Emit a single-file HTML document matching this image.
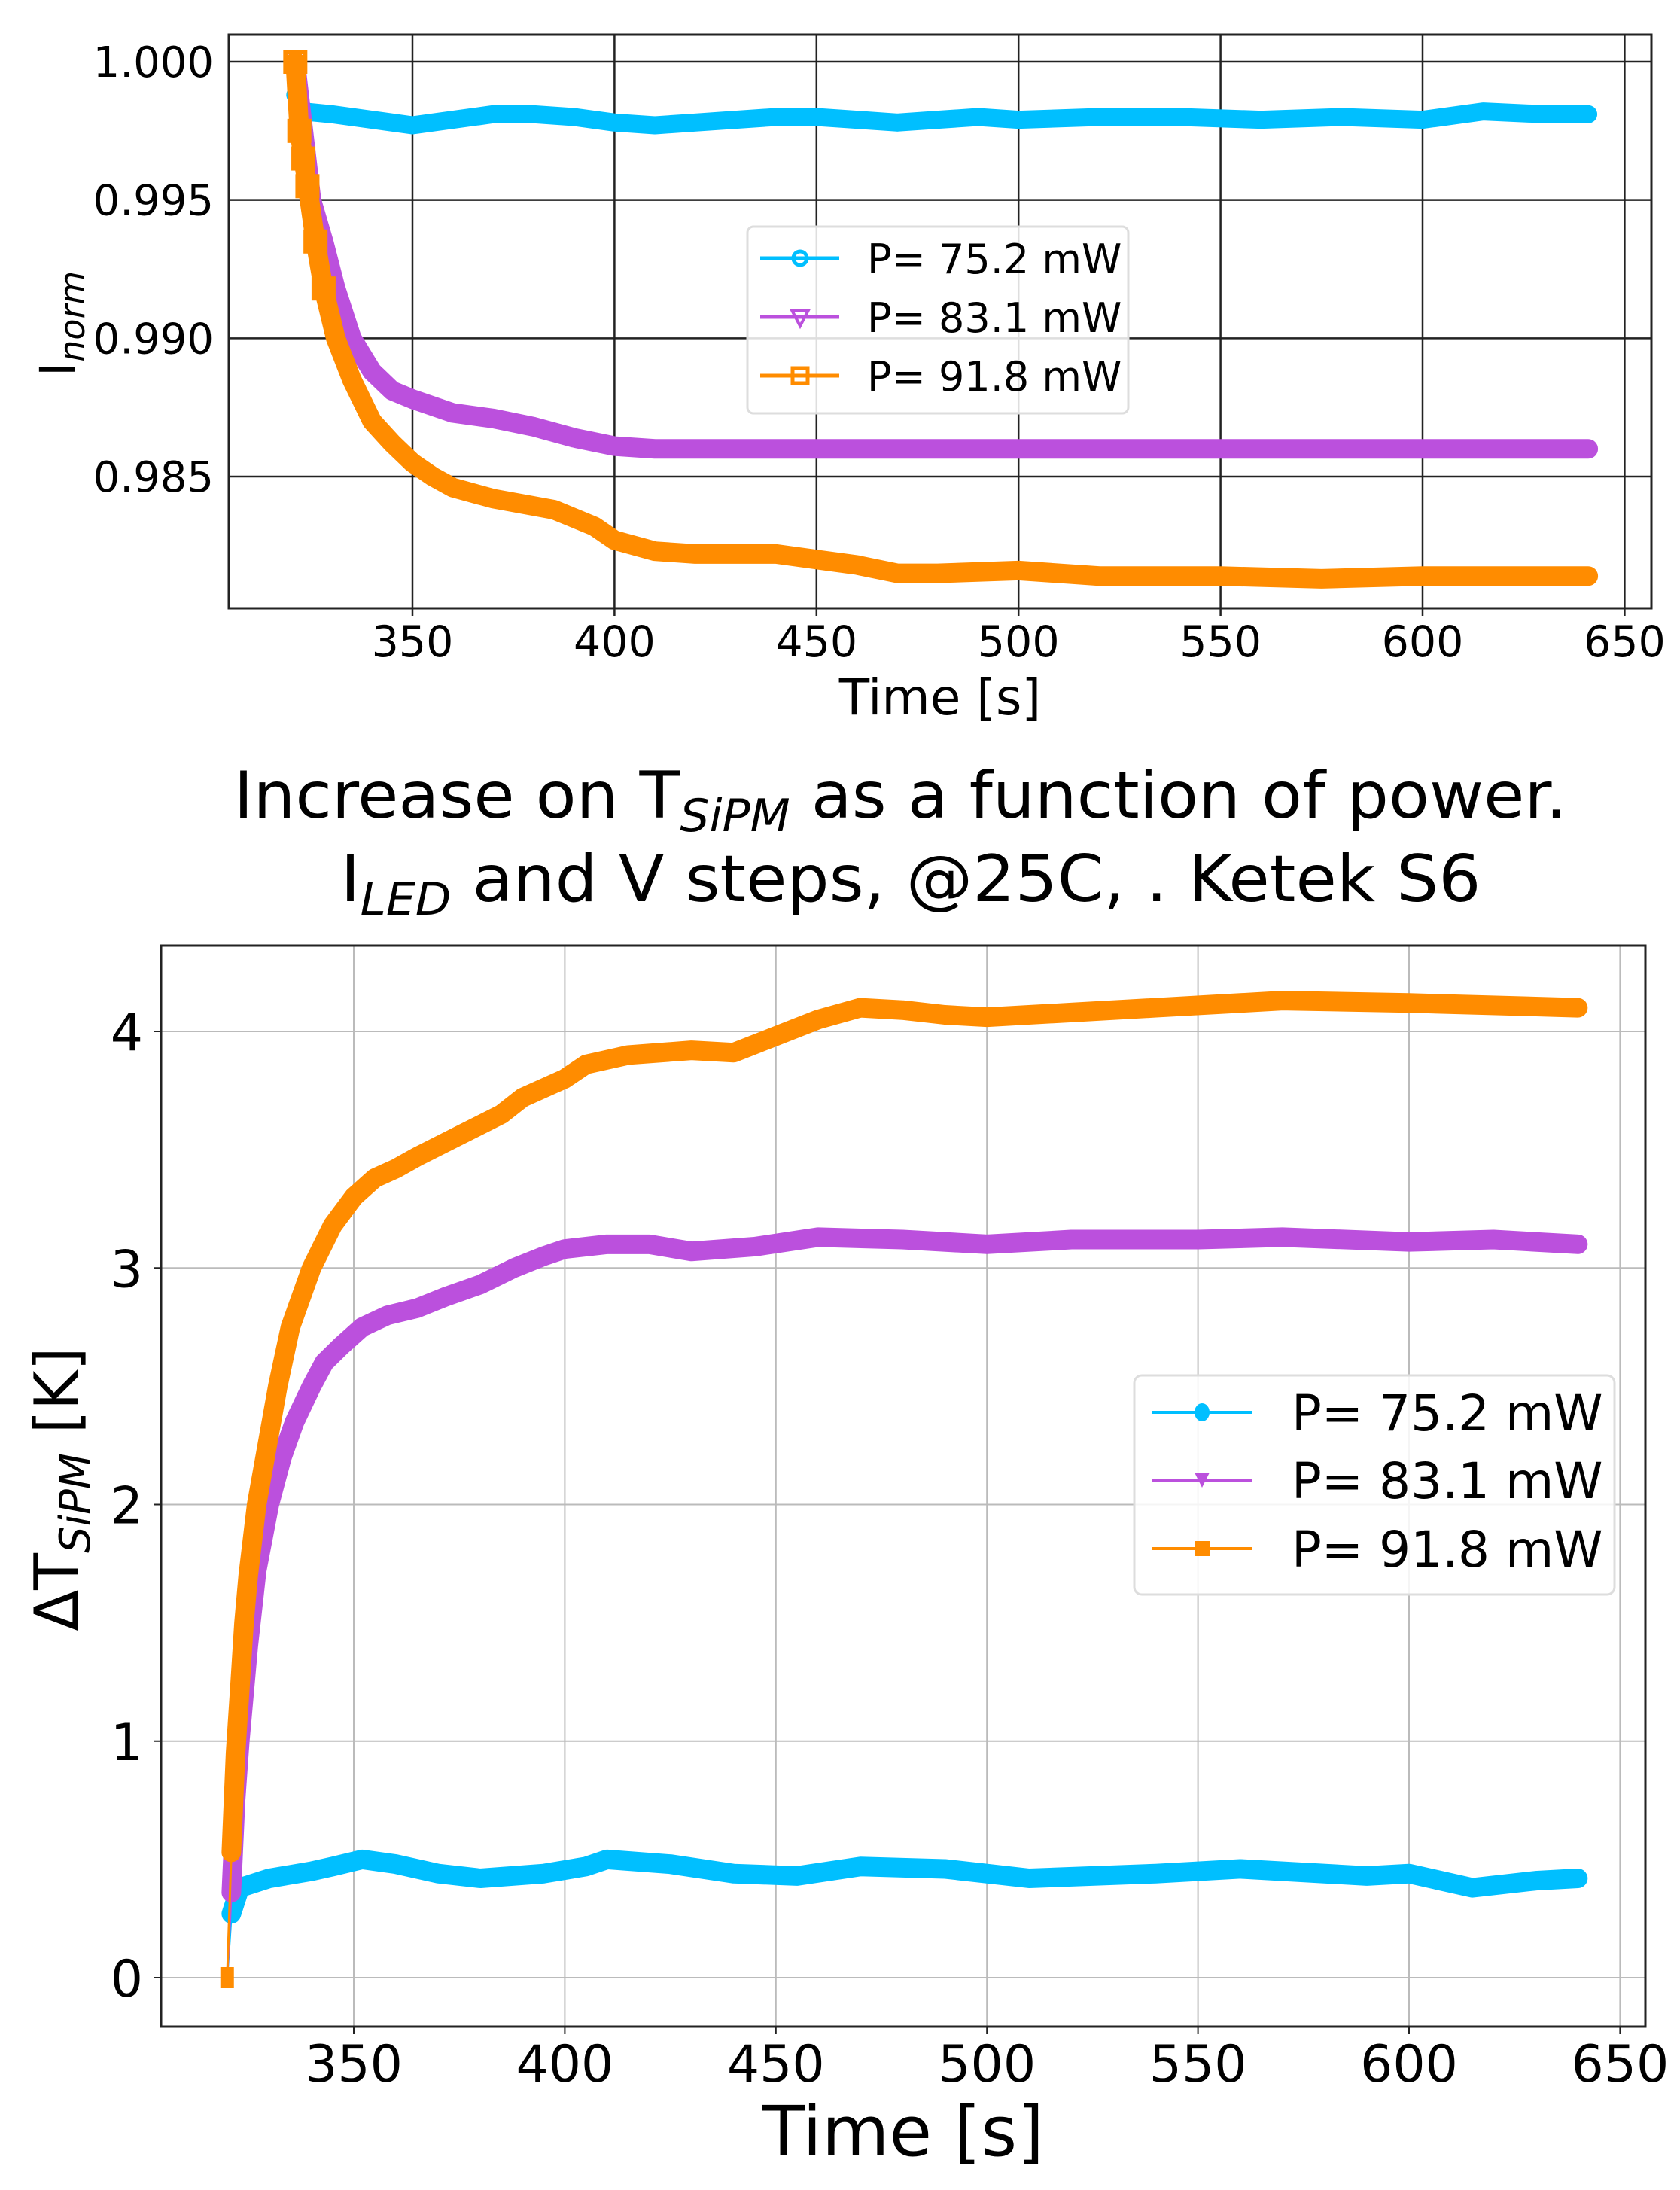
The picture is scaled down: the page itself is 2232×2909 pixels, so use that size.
<!DOCTYPE html>
<html><head><meta charset="utf-8"><style>
html,body{margin:0;padding:0;background:#fff}
svg{display:block;font-family:"DejaVu Sans","Liberation Sans",sans-serif}
</style></head><body>
<svg id="fig" width="2232" height="2909" viewBox="0 0 2232 2909" xmlns="http://www.w3.org/2000/svg">
<rect width="2232" height="2909" fill="#fff"/>
<g id="top"></g>
<text x="1196" y="1086" font-size="86" text-anchor="middle" textLength="1771" lengthAdjust="spacingAndGlyphs">Increase on T<tspan font-style="italic" font-size="60" dy="18">SiPM</tspan><tspan dy="-18"> as a function of power.</tspan></text>
<text x="1210" y="1197" font-size="86" text-anchor="middle" textLength="1515" lengthAdjust="spacingAndGlyphs">I<tspan font-style="italic" font-size="60" dy="18">LED</tspan><tspan dy="-18"> and V steps, @25C, . Ketek S6</tspan></text>
<g id="bot"></g>
</svg>
<script>
// ---- data: top plot (normalized current) ----
const topTimeBlue = [321,323,330,340,350,360,370,380,390,400,410,420,430,440,450,460,470,480,490,500,520,540,560,580,600,615,630,641];
const topBlue = [0.9988,0.9982,0.9981,0.9979,0.9977,0.9979,0.9981,0.9981,0.998,0.9978,0.9977,0.9978,0.9979,0.998,0.998,0.9979,0.9978,0.9979,0.998,0.9979,0.998,0.998,0.9979,0.998,0.9979,0.9982,0.9981,0.9981];
const topTimeP = [321,323,325,328,331,335,340,345,350,360,370,380,390,400,410,420,450,500,550,600,641];
const topPurple = [1.0,0.9975,0.995,0.9935,0.9918,0.990,0.9888,0.9881,0.9878,0.9873,0.9871,0.9868,0.9864,0.9861,0.986,0.986,0.986,0.986,0.986,0.986,0.986];
const topTimeO = [321,322,323,324,326,328,331,335,340,345,350,355,360,370,385,395,400,410,420,440,450,460,470,480,500,520,550,575,600,641];
const topOrange = [1.0,0.9975,0.9965,0.9955,0.9935,0.9918,0.990,0.9885,0.987,0.9862,0.9855,0.985,0.9846,0.9842,0.9838,0.9832,0.9827,0.9823,0.9822,0.9822,0.982,0.9818,0.9815,0.9815,0.9816,0.9814,0.9814,0.9813,0.9814,0.9814];
const topXTicks = [350,400,450,500,550,600,650];
const topYTicks = [0.985,0.990,0.995,1.000];
const topYTickLabels = ["0.985","0.990","0.995","1.000"];
// ---- data: bottom plot (delta T) ----
const botTimeB = [320,321,323,330,340,345,352,360,370,380,395,405,410,425,440,455,470,490,510,540,560,590,600,615,630,640];
const botBlue = [0,0.27,0.38,0.42,0.45,0.47,0.5,0.48,0.44,0.42,0.44,0.47,0.5,0.48,0.44,0.43,0.47,0.46,0.42,0.44,0.46,0.43,0.44,0.38,0.41,0.42];
const botTimeP = [320,321,322,323,325,327,330,333,336,340,343,347,352,358,365,372,380,388,395,400,410,420,430,445,460,480,500,520,550,570,600,620,640];
const botPurple = [0,0.36,0.75,1.0,1.4,1.72,2.0,2.2,2.35,2.5,2.6,2.67,2.75,2.8,2.83,2.88,2.93,3.0,3.05,3.08,3.1,3.1,3.07,3.09,3.13,3.12,3.1,3.12,3.12,3.13,3.11,3.12,3.1];
const botTimeO = [320,321,322,323,324,325,327,330,332,335,340,345,350,355,360,365,375,385,390,400,405,415,430,440,450,460,470,480,490,500,520,540,570,600,640];
const botOrange = [0,0.53,0.95,1.22,1.5,1.7,2.0,2.3,2.5,2.75,3.0,3.18,3.3,3.38,3.42,3.47,3.56,3.65,3.72,3.8,3.86,3.9,3.92,3.91,3.98,4.05,4.1,4.09,4.07,4.06,4.08,4.1,4.13,4.12,4.1];
const botXTicks = [350,400,450,500,550,600,650];
const botYTicks = [0,1,2,3,4];
const seriesLabels = ["P= 75.2 mW","P= 83.1 mW","P= 91.8 mW"];
const colors = ["#00bfff","#bb50dd","#ff8c00"];

const NS="http://www.w3.org/2000/svg";
function mk(parent,tag,attrs){const e=document.createElementNS(NS,tag);for(const k in attrs)e.setAttribute(k,attrs[k]);parent.appendChild(e);return e;}
function lin(d0,d1,r0,r1){return v=>r0+(v-d0)*(r1-r0)/(d1-d0);}

// ---------- TOP ----------
(function(){
  const g=document.getElementById('top');
  const L=304,R=2194,T=46,B=808;
  const x=lin(350,600,548,1890), y=lin(1.0,0.985,82,633);
  const clip=mk(g,'clipPath',{id:'ct'}); mk(clip,'rect',{x:L,y:T,width:R-L,height:B-T});
  topXTicks.forEach(t=>{
    const l=mk(g,'line',{x1:x(t),x2:x(t),y1:T,y2:B,stroke:'#222','stroke-width':2.5});
    
    
    mk(g,'line',{x1:x(t),x2:x(t),y1:B,y2:B+10,stroke:'#222','stroke-width':2.5});
    const tx=mk(g,'text',{x:x(t),y:872,'font-size':57,'text-anchor':'middle'});tx.textContent=t;
    
    
  });
  topYTicks.forEach((t,i)=>{
    const l=mk(g,'line',{x1:L,x2:R,y1:y(t),y2:y(t),stroke:'#222','stroke-width':2.5});
    
    
    const tx=mk(g,'text',{x:284,y:y(t)+20,'font-size':56,'text-anchor':'end'});tx.textContent=topYTickLabels[i];
    
    
  });
  const sets=[[topTimeBlue,topBlue],[topTimeP,topPurple],[topTimeO,topOrange]];
  const sg=mk(g,'g',{'clip-path':'url(#ct)'});
  sets.forEach((s,k)=>{
    const pts=s[0].map((t,i)=>x(t)+','+y(s[1][i])).join(' ');
    const p=mk(sg,'polyline',{points:pts,fill:'none',stroke:colors[k],'stroke-width':k==0?24:26,'stroke-linejoin':'round','stroke-linecap':'round'});
    
    
  });
  // early markers
  topTimeO.slice(0,6).forEach((t,i)=>{const r=mk(sg,'rect',{x:x(t)-13,y:y(topOrange[i])-13,width:26,height:26,fill:'none',stroke:colors[2],'stroke-width':6});
    
    });
  mk(g,'rect',{x:L,y:T,width:R-L,height:B-T,fill:'none',stroke:'#222','stroke-width':3});
  const xl=mk(g,'text',{x:1249,y:949,'font-size':66,'text-anchor':'middle'});xl.textContent='Time [s]';
  
  
  const yl=mk(g,'text',{transform:'translate(100,430) rotate(-90)','font-size':66,'text-anchor':'middle'});
  yl.innerHTML='I<tspan font-style="italic" font-size="46" dy="12">norm</tspan>';
  
  
  // legend
  const lg=mk(g,'g',{});
  
  
  mk(lg,'rect',{x:993,y:301,width:506,height:248,rx:8,fill:'#fff','fill-opacity':0.85,stroke:'#ddd','stroke-width':3});
  [343,421,499].forEach((yy,k)=>{
    mk(lg,'line',{x1:1010,x2:1115,y1:yy,y2:yy,stroke:colors[k],'stroke-width':5});
    if(k==0)mk(lg,'circle',{cx:1063,cy:yy,r:9,fill:'none',stroke:colors[k],'stroke-width':5});
    if(k==1)mk(lg,'path',{d:`M1052 ${yy-9} L1074 ${yy-9} L1063 ${yy+12} Z`,fill:'none',stroke:colors[k],'stroke-width':4});
    if(k==2)mk(lg,'rect',{x:1053,y:yy-10,width:20,height:20,fill:'none',stroke:colors[k],'stroke-width':5});
    const t=mk(lg,'text',{x:1152,y:yy+20,'font-size':54});t.textContent=seriesLabels[k];
    
    
  });
})();

// ---------- BOTTOM ----------
(function(){
  const g=document.getElementById('bot');
  const L=214,R=2186,T=1256,B=2692;
  const x=lin(350,600,470,1872), y=lin(0,4,2627,1370);
  const clip=mk(g,'clipPath',{id:'cb'}); mk(clip,'rect',{x:L,y:T,width:R-L,height:B-T});
  botXTicks.forEach(t=>{
    const l=mk(g,'line',{x1:x(t),x2:x(t),y1:T,y2:B,stroke:'#bbb','stroke-width':2});
    
    
    mk(g,'line',{x1:x(t),x2:x(t),y1:B,y2:B+10,stroke:'#222','stroke-width':2});
    const tx=mk(g,'text',{x:x(t),y:2765,'font-size':68,'text-anchor':'middle'});tx.textContent=t;
    
    
  });
  botYTicks.forEach(t=>{
    const l=mk(g,'line',{x1:L,x2:R,y1:y(t),y2:y(t),stroke:'#bbb','stroke-width':2});
    
    
    mk(g,'line',{x1:L-10,x2:L,y1:y(t),y2:y(t),stroke:'#222','stroke-width':2});
    const tx=mk(g,'text',{x:190,y:y(t)+25,'font-size':68,'text-anchor':'end'});tx.textContent=t;
    
    
  });
  const sets=[[botTimeB,botBlue],[botTimeP,botPurple],[botTimeO,botOrange]];
  const sg=mk(g,'g',{'clip-path':'url(#cb)'});
  sets.forEach((s,k)=>{
    const pts=s[0].slice(1).map((t,i)=>x(t)+','+y(s[1][i+1])).join(' ');
    mk(sg,'line',{x1:x(s[0][0]),y1:y(s[1][0]),x2:x(s[0][1]),y2:y(s[1][1]),stroke:colors[k],'stroke-width':3});
    const p=mk(sg,'polyline',{points:pts,fill:'none',stroke:colors[k],'stroke-width':26,'stroke-linejoin':'round','stroke-linecap':'round'});
    
    
  });
  const m=mk(sg,'rect',{x:x(320)-9,y:y(0)-14,width:18,height:28,fill:colors[2]});
  
  
  mk(g,'rect',{x:L,y:T,width:R-L,height:B-T,fill:'none',stroke:'#222','stroke-width':3});
  const xl=mk(g,'text',{x:1200,y:2863,'font-size':92,'text-anchor':'middle'});xl.textContent='Time [s]';
  
  
  const yl=mk(g,'text',{transform:'translate(103,1978) rotate(-90)','font-size':80,'text-anchor':'middle'});
  yl.innerHTML='ΔT<tspan font-style="italic" font-size="56" dy="16">SiPM</tspan><tspan dy="-16"> [K]</tspan>';
  
  
  const lg=mk(g,'g',{});
  
  
  mk(lg,'rect',{x:1507,y:1827,width:638,height:291,rx:10,fill:'#fff','fill-opacity':0.85,stroke:'#ddd','stroke-width':3});
  [1876,1966,2057].forEach((yy,k)=>{
    mk(lg,'line',{x1:1531,x2:1664,y1:yy,y2:yy,stroke:colors[k],'stroke-width':4});
    if(k==0)mk(lg,'ellipse',{cx:1597,cy:yy,rx:10,ry:12,fill:colors[k]});
    if(k==1)mk(lg,'path',{d:`M1587 ${yy-10} L1607 ${yy-10} L1597 ${yy+10} Z`,fill:colors[k]});
    if(k==2)mk(lg,'rect',{x:1587,y:yy-10,width:20,height:20,fill:colors[k]});
    const t=mk(lg,'text',{x:1716,y:yy+24,'font-size':66});t.textContent=seriesLabels[k];
    
    
  });
})();
</script>
</body></html>
